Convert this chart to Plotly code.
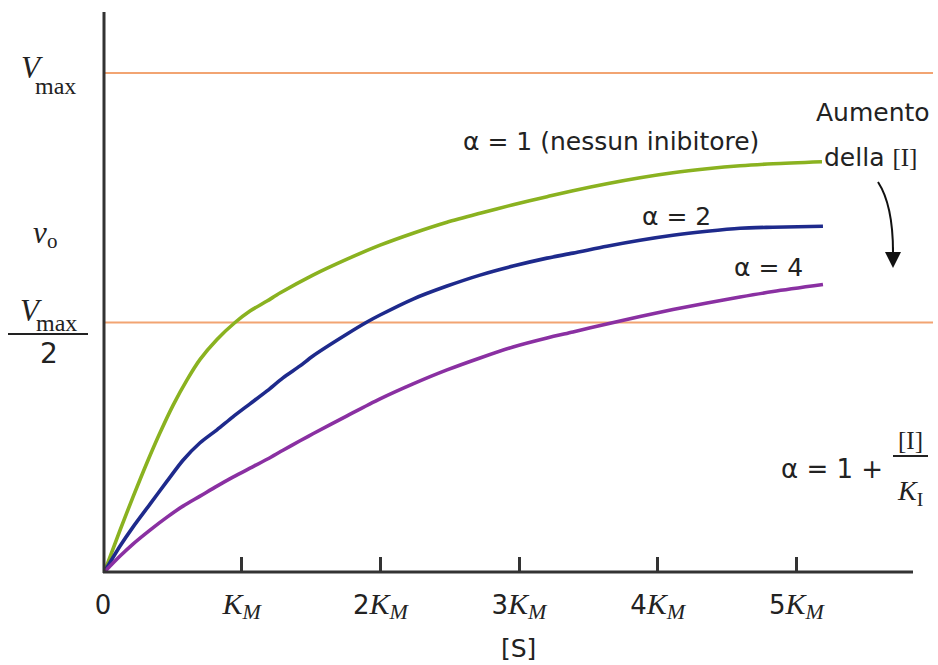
import plotly.graph_objects as go

# ---------------- data (x in units of K_M, y as fraction of Vmax) ----------------
x_alpha1 = [0.01, 0.123, 0.216, 0.317, 0.411, 0.505, 0.606, 0.700, 0.822, 0.952, 1.060, 1.183, 1.276,
            1.514, 1.760, 1.998, 2.236, 2.481, 2.719, 2.957, 3.202, 3.389, 3.634, 3.873, 4.110,
            4.356, 4.594, 4.832, 5.185]
y_alpha1 = [0, 0.084, 0.150, 0.219, 0.279, 0.334, 0.385, 0.426, 0.466, 0.500, 0.523, 0.543, 0.559,
            0.595, 0.627, 0.655, 0.679, 0.701, 0.719, 0.736, 0.752, 0.764, 0.778, 0.790, 0.800,
            0.808, 0.814, 0.818, 0.822]

x_alpha2 = [0.01, 0.123, 0.216, 0.339, 0.462, 0.577, 0.700, 0.822, 0.937, 1.060, 1.183, 1.298, 1.421,
            1.514, 1.760, 1.904, 1.998, 2.236, 2.481, 2.719, 2.957, 3.202, 3.389, 3.634, 3.873,
            4.110, 4.356, 4.594, 4.832, 5.192]
y_alpha2 = [0, 0.052, 0.090, 0.136, 0.182, 0.224, 0.259, 0.285, 0.311, 0.337, 0.363, 0.389, 0.413,
            0.433, 0.477, 0.501, 0.515, 0.547, 0.573, 0.595, 0.613, 0.629, 0.639, 0.653, 0.665,
            0.675, 0.683, 0.689, 0.691, 0.693]

x_alpha4 = [0.01, 0.123, 0.216, 0.339, 0.462, 0.577, 0.700, 0.822, 0.937, 1.060, 1.183, 1.298, 1.421,
            1.514, 1.760, 1.998, 2.236, 2.481, 2.719, 2.957, 3.202, 3.389, 3.634, 3.873, 4.110,
            4.356, 4.594, 4.832, 5.192]
y_alpha4 = [0, 0.032, 0.056, 0.084, 0.110, 0.132, 0.152, 0.172, 0.190, 0.208, 0.226, 0.244, 0.263,
            0.277, 0.313, 0.347, 0.377, 0.405, 0.429, 0.451, 0.469, 0.481, 0.497, 0.512, 0.526,
            0.539, 0.551, 0.562, 0.576]

vmax_levels = [1.0, 0.5]

tick_vals = [0, 1, 2, 3, 4, 5]
tick_nums = ["0", "", "2", "3", "4", "5"]

SERIF = "Liberation Serif"
SANS = "DejaVu Sans"

def km(n):
    if n == "0":
        return "0"
    return (n + "<span style='font-family:Liberation Serif;font-style:italic;font-size:30px'>K</span>"
            "<sub><span style='font-family:Liberation Serif;font-style:italic;font-size:22px'>M</span></sub>")

tick_text = [km(n) for n in tick_nums]

# ---------------- layout geometry ----------------
W, H = 938, 665
L, R, T, B = 103, 935, 12, 572

def px(xp):
    return (xp - L) / (R - L)

def py(yp):
    return (B - yp) / (B - T)

GREEN = "#8ab220"
BLUE = "#1e2a8c"
PURPLE = "#8a30a2"
ORANGE = "#f2a472"
AXIS = "#333333"

fig = go.Figure()
for xs, ys, c in [(x_alpha1, y_alpha1, GREEN), (x_alpha2, y_alpha2, BLUE), (x_alpha4, y_alpha4, PURPLE)]:
    fig.add_trace(go.Scatter(x=xs, y=ys, mode="lines", line=dict(color=c, width=3.6, shape="spline", smoothing=0.8),
                             hoverinfo="skip", showlegend=False))

shapes = []
for lv in vmax_levels:
    shapes.append(dict(type="line", xref="paper", yref="y", x0=px(105), x1=px(933), y0=lv, y1=lv,
                       line=dict(color=ORANGE, width=2), layer="below"))
# axes
shapes.append(dict(type="line", xref="paper", yref="paper", x0=px(104), x1=px(104), y0=py(573), y1=py(12),
                   line=dict(color=AXIS, width=3)))
shapes.append(dict(type="line", xref="paper", yref="paper", x0=px(103), x1=px(913), y0=py(572), y1=py(572),
                   line=dict(color=AXIS, width=3)))
# fraction bars
shapes.append(dict(type="line", xref="paper", yref="paper", x0=px(8), x1=px(88), y0=py(334), y1=py(334),
                   line=dict(color="#222", width=2)))
shapes.append(dict(type="line", xref="paper", yref="paper", x0=px(893), x1=px(928), y0=py(456), y1=py(456),
                   line=dict(color="#222", width=1.8)))
# curved arrow
shapes.append(dict(type="path", xref="paper", yref="paper",
                   path=f"M {px(878)} {py(182)} Q {px(893)} {py(205)} {px(893)} {py(252)}",
                   line=dict(color="#111", width=2)))

ann = []
def txt(x, y, s, size=26, fam=SANS, xanchor="center", color="#222"):
    ann.append(dict(xref="paper", yref="paper", x=px(x), y=py(y), text=s, showarrow=False,
                    xanchor=xanchor, yanchor="middle", font=dict(family=fam, size=size, color=color)))

txt(611, 142, "α = 1 (nessun inibitore)", 25)
txt(676, 216, "α = 2", 25)
txt(768, 267, "α = 4", 25)
txt(873, 112, "Aumento", 25)
txt(870, 158, "della <span style='font-family:Liberation Serif'>[I]</span>", 25)
txt(832, 469, "α = 1 +", 26)
txt(910, 440, "[I]", 25, SERIF)
txt(910, 492, "<i>K</i><sub>I</sub>", 28, SERIF)
txt(518, 648, "[S]", 25)
# y labels
txt(32, 68, "<i>V</i>", 31, SERIF)
txt(55, 86, "max", 24, SERIF)
txt(31, 310, "<i>V</i>", 31, SERIF)
txt(56, 323, "max", 24, SERIF)
txt(49, 353, "2", 28, SANS)
txt(40, 232, "<i>v</i>", 31, SERIF)
txt(52, 241, "o", 21, SERIF)

# arrow head
ann.append(dict(xref="paper", yref="paper", x=px(893), y=py(268), ax=0, ay=-22, axref="pixel", ayref="pixel",
                text="", showarrow=True, arrowhead=2, arrowsize=1.6, arrowwidth=2, arrowcolor="#111"))

fig.update_layout(
    width=W, height=H,
    margin=dict(l=L, r=W - R, t=T, b=H - B, autoexpand=False),
    plot_bgcolor="white", paper_bgcolor="white",
    shapes=shapes, annotations=ann,
    xaxis=dict(range=[0, 6.0], showgrid=False, zeroline=False, showline=False,
               tickmode="array", tickvals=tick_vals, ticktext=tick_text,
               ticks="inside", ticklen=15, tickwidth=2.5, tickcolor=AXIS, ticklabelstandoff=15,
               tickfont=dict(family=SANS, size=26, color="#222"), fixedrange=True),
    yaxis=dict(range=[0, (B - T) / 499], showgrid=False, zeroline=False, showline=False,
               showticklabels=False, ticks="", fixedrange=True),
)

fig.write_html("out.html", config={"displayModeBar": False},
               post_script="document.body.style.margin='0';document.body.style.padding='0';")
